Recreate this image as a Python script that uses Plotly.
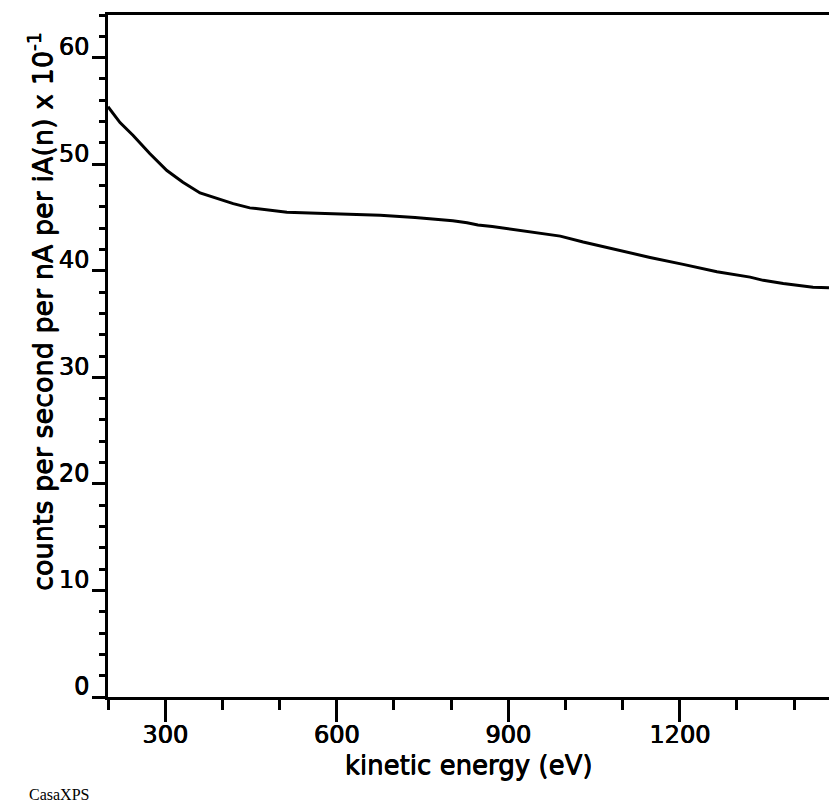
import plotly.graph_objects as go

# Kinetic energy (eV) and intensity (counts per second per nA per iA(n), x 10^-1)
energy = [200, 203, 221, 244, 273, 303, 331, 361, 391, 419, 448, 478, 513,
          566, 620, 676, 737, 772, 803, 828, 847, 872, 891, 915, 935, 961,
          991, 1031, 1090, 1148, 1206, 1265, 1323, 1346, 1381, 1433, 1461]
intensity = [55.4, 55.2, 53.9, 52.7, 51.0, 49.4, 48.3, 47.3, 46.8, 46.3, 45.9,
             45.7, 45.5, 45.4, 45.3, 45.2, 45.0, 44.85, 44.7, 44.5, 44.3, 44.15,
             44.0, 43.85, 43.65, 43.45, 43.25, 42.7, 41.95, 41.25, 40.6, 39.9,
             39.4, 39.1, 38.8, 38.45, 38.4]

x_range = [200, 1461]
y_range = [0, 64]
x_title = "kinetic energy (eV)"
y_title = "counts per second per nA per iA(n) x 10<sup>-1</sup>"
footer = "CasaXPS"

FONT = "DejaVu Sans, Verdana, sans-serif"
# a thin same-colour shadow gives the text a slightly heavier stroke
HEAVY = "0.6px 0px 0px black, 0px 0.3px 0px black"
TICK_FONT = dict(family=FONT, size=24, color="black", shadow=HEAVY)
XTITLE_FONT = dict(family=FONT, size=26, color="black", shadow=HEAVY)
YTITLE_FONT = dict(family=FONT, size=27, color="black", shadow=HEAVY)

fig = go.Figure()
fig.add_trace(go.Scatter(x=energy, y=intensity, mode="lines",
                         line=dict(color="black", width=3),
                         showlegend=False, hoverinfo="skip"))

fig.update_layout(
    width=829, height=807,
    margin=dict(l=108, r=0, t=15, b=110),
    paper_bgcolor="white", plot_bgcolor="white",
    font=dict(family=FONT, size=24, color="black"),
)

fig.update_xaxes(
    range=x_range, showgrid=False, zeroline=False,
    showline=True, linecolor="black", linewidth=3, mirror=True,
    ticks="outside", ticklen=22, tickwidth=3, tickcolor="black",
    tick0=0, dtick=300,
    minor=dict(ticks="outside", ticklen=10, tickwidth=3, tickcolor="black",
               tick0=0, dtick=100, showgrid=False),
    tickfont=TICK_FONT, ticklabelstandoff=-8,
    title=dict(text=x_title, font=XTITLE_FONT, standoff=9),
)

fig.update_yaxes(
    range=y_range, showgrid=False, zeroline=False,
    showline=True, linecolor="black", linewidth=3,
    ticks="outside", ticklen=13, tickwidth=3, tickcolor="black",
    tick0=0, dtick=10,
    minor=dict(ticks="outside", ticklen=6, tickwidth=3, tickcolor="black",
               tick0=0, dtick=2, showgrid=False),
    tickfont=TICK_FONT,
    ticklabelshift=-11, ticklabelstandoff=-2,
)

# Rotated axis title placed left of the tick labels
fig.add_annotation(text=y_title, xref="paper", yref="paper",
                   x=(41 - 108) / 721, y=(697 - 312) / 682,
                   showarrow=False, textangle=-90, font=YTITLE_FONT,
                   xanchor="center", yanchor="middle")

fig.add_annotation(text=footer, xref="paper", yref="paper",
                   x=(27 - 108) / 721, y=(697 - 794) / 682,
                   showarrow=False, xanchor="left", yanchor="middle",
                   font=dict(family="Liberation Serif, Times New Roman, serif",
                             size=16, color="black"))

fig.write_html("out.html")
